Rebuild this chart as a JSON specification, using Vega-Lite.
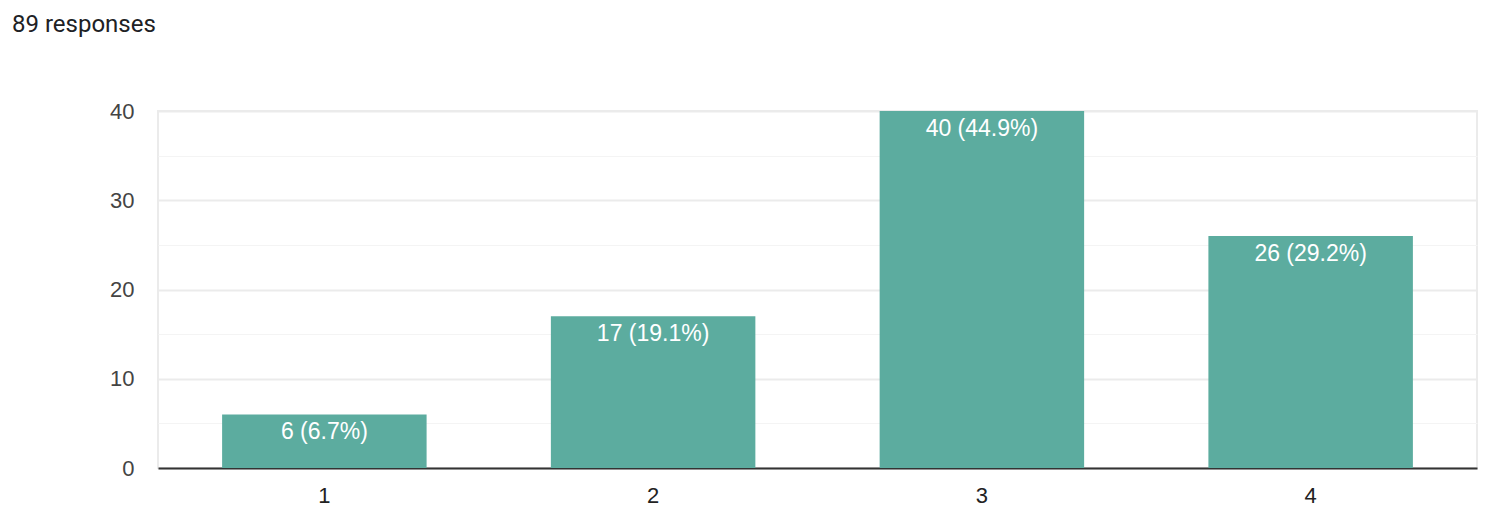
{
  "$schema": "https://vega.github.io/schema/vega-lite/v6.json",
  "autosize": "none",
  "width": 1319,
  "height": 357,
  "padding": {"left": 158, "top": 111, "right": 17, "bottom": 58},
  "background": "#ffffff",
  "title": {
    "text": "89 responses",
    "anchor": "start",
    "frame": "group",
    "orient": "top",
    "dx": -146,
    "offset": 44,
    "baseline": "alphabetic",
    "font": "Roboto",
    "fontSize": 24,
    "fontWeight": "normal",
    "color": "#202124"
  },
  "config": {
    "view": {"stroke": "#ebebeb", "strokeWidth": 2},
    "font": "Liberation Sans"
  },
  "data": {
    "values": [
      {"rating": "1", "count": 6, "label": "6 (6.7%)"},
      {"rating": "2", "count": 17, "label": "17 (19.1%)"},
      {"rating": "3", "count": 40, "label": "40 (44.9%)"},
      {"rating": "4", "count": 26, "label": "26 (29.2%)"}
    ]
  },
  "encoding": {
    "x": {
      "field": "rating",
      "type": "nominal",
      "sort": null,
      "scale": {"paddingInner": 0.378, "paddingOuter": 0.195},
      "axis": {
        "title": null,
        "labelAngle": 0,
        "ticks": false,
        "domainColor": "#333333",
        "domainWidth": 2,
        "labelFontSize": 22,
        "labelColor": "#222222",
        "labelPadding": 17,
        "labelFont": "Liberation Sans",
        "grid": false
      }
    },
    "y": {
      "field": "count",
      "type": "quantitative",
      "scale": {"domain": [0, 40], "nice": false},
      "axis": {
        "title": null,
        "values": [0, 5, 10, 15, 20, 25, 30, 35, 40],
        "labelExpr": "datum.value % 10 === 0 ? datum.label : ''",
        "ticks": false,
        "domain": false,
        "gridColor": {"condition": {"test": "datum.value % 10 === 0", "value": "#ebebeb"}, "value": "#f4f4f4"},
        "gridWidth": {"condition": {"test": "datum.value % 10 === 0", "value": 2}, "value": 1},
        "labelFontSize": 22,
        "labelColor": "#444444",
        "labelPadding": 24,
        "labelFont": "Liberation Sans"
      }
    }
  },
  "layer": [
    {"mark": {"type": "bar", "color": "#5cac9f"}},
    {
      "mark": {"type": "text", "color": "#ffffff", "fontSize": 23, "baseline": "top", "dy": 7, "font": "Liberation Sans"},
      "encoding": {"text": {"field": "label"}}
    }
  ]
}
